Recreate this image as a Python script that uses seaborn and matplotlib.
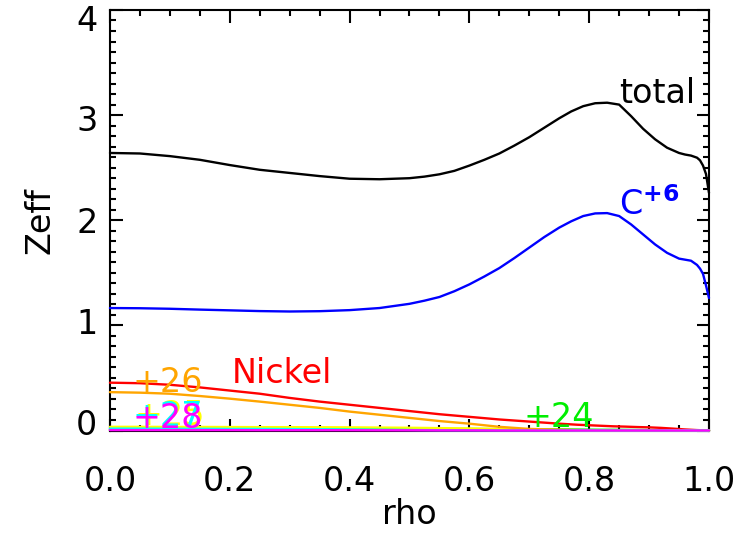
import numpy as np
import pandas as pd
import matplotlib
matplotlib.use("Agg")
import matplotlib.pyplot as plt
import matplotlib.transforms as mtransforms
from matplotlib.ticker import MultipleLocator
import seaborn as sns

# radius grid for the total and carbon profiles
rho_main = [0.00, 0.05, 0.10, 0.15, 0.20, 0.25, 0.30, 0.35, 0.40, 0.45,
            0.500, 0.525, 0.550, 0.575, 0.600, 0.625, 0.650, 0.675, 0.700, 0.725,
            0.750, 0.770, 0.790, 0.810, 0.830, 0.850, 0.870, 0.890, 0.910, 0.930,
            0.950, 0.960, 0.970, 0.980, 0.985, 0.990, 0.995, 1.000]
zeff_total = [2.640, 2.635, 2.610, 2.575, 2.525, 2.480, 2.450, 2.420, 2.395, 2.390,
              2.400, 2.415, 2.437, 2.470, 2.520, 2.575, 2.635, 2.710, 2.790, 2.880,
              2.970, 3.035, 3.085, 3.113, 3.118, 3.100, 2.990, 2.870, 2.770, 2.690,
              2.640, 2.625, 2.615, 2.595, 2.570, 2.520, 2.440, 2.260]
zeff_c6 = [1.165, 1.163, 1.158, 1.150, 1.143, 1.136, 1.132, 1.135, 1.145, 1.165,
           1.205, 1.235, 1.270, 1.325, 1.390, 1.465, 1.545, 1.640, 1.740, 1.840,
           1.930, 1.990, 2.040, 2.065, 2.068, 2.040, 1.960, 1.865, 1.770, 1.690,
           1.635, 1.625, 1.615, 1.575, 1.540, 1.490, 1.380, 1.260]

# radius grid for the nickel profiles
rho_ni = [0.00, 0.05, 0.10, 0.15, 0.20, 0.25, 0.30, 0.35, 0.40, 0.45,
          0.50, 0.55, 0.60, 0.65, 0.70, 0.75, 0.78, 0.80, 0.82, 0.84,
          0.86, 0.88, 0.90, 0.92, 0.94, 0.96, 0.97, 0.98, 0.99, 0.995, 1.00]
zeff_nickel = [0.455, 0.450, 0.435, 0.410, 0.380, 0.350, 0.310, 0.275, 0.245, 0.215,
               0.185, 0.155, 0.130, 0.105, 0.085, 0.065, 0.055, 0.050, 0.045, 0.040,
               0.037, 0.033, 0.030, 0.025, 0.018, 0.010, 0.007, 0.004, 0.002, 0.001, 0.000]
zeff_ni24 = [0.010, 0.010, 0.011, 0.011, 0.012, 0.012, 0.012, 0.013, 0.013, 0.014,
             0.014, 0.014, 0.014, 0.013, 0.012, 0.010, 0.009, 0.008, 0.007, 0.007,
             0.006, 0.005, 0.004, 0.003, 0.002, 0.001, 0.001, 0.000, 0.000, 0.000, 0.000]
zeff_ni25 = [0.035, 0.035, 0.034, 0.034, 0.033, 0.032, 0.032, 0.031, 0.030, 0.028,
             0.026, 0.023, 0.020, 0.015, 0.008, 0.003, 0.001, 0.000, 0.000, 0.000,
             0.000, 0.000, 0.000, 0.000, 0.000, 0.000, 0.000, 0.000, 0.000, 0.000, 0.000]
zeff_ni26 = [0.365, 0.360, 0.350, 0.328, 0.303, 0.275, 0.245, 0.215, 0.180, 0.150,
             0.120, 0.090, 0.065, 0.035, 0.015, 0.008, 0.004, 0.002, 0.001, 0.000,
             0.000, 0.000, 0.000, 0.000, 0.000, 0.000, 0.000, 0.000, 0.000, 0.000, 0.000]
zeff_ni27 = [0.018, 0.018, 0.017, 0.016, 0.015, 0.015, 0.014, 0.012, 0.010, 0.007,
             0.005, 0.003, 0.002, 0.001, 0.000, 0.000, 0.000, 0.000, 0.000, 0.000,
             0.000, 0.000, 0.000, 0.000, 0.000, 0.000, 0.000, 0.000, 0.000, 0.000, 0.000]
zeff_ni28 = [0.004, 0.004, 0.004, 0.004, 0.004, 0.003, 0.003, 0.003, 0.003, 0.002,
             0.002, 0.001, 0.001, 0.000, 0.000, 0.000, 0.000, 0.000, 0.000, 0.000,
             0.000, 0.000, 0.000, 0.000, 0.000, 0.000, 0.000, 0.000, 0.000, 0.000, 0.000]

species = ["total", "C+6", "Nickel", "+24", "+25", "+26", "+27", "+28"]
grids = [rho_main, rho_main] + [rho_ni] * 6
series = [zeff_total, zeff_c6, zeff_nickel, zeff_ni24, zeff_ni25,
          zeff_ni26, zeff_ni27, zeff_ni28]
colors = ["#000000", "#0000ff", "#ff0000", "#00ee00", "#ffff00",
          "#ffa500", "#00ffff", "#ff00ff"]

x_ticks = [0.0, 0.2, 0.4, 0.6, 0.8, 1.0]
y_ticks = [0, 1, 2, 3, 4]

df = pd.concat(
    [pd.DataFrame({"rho": r, "Zeff": vals, "species": name})
     for name, r, vals in zip(species, grids, series)],
    ignore_index=True,
)

sns.set_style("ticks")
plt.rcParams["font.family"] = ["DejaVu Sans"]
plt.rcParams.update({
    "font.size": 24,
    "text.color": "black",
    "axes.labelcolor": "black",
    "xtick.color": "black",
    "ytick.color": "black",
    "axes.edgecolor": "black",
})

fig = plt.figure(figsize=(7.4, 5.34), dpi=100)
ax = fig.add_axes([0.1486, 0.1938, 0.8095, 0.7875])

sns.lineplot(data=df, x="rho", y="Zeff", hue="species", hue_order=species,
             palette=dict(zip(species, colors)), linewidth=1.7,
             legend=False, ax=ax, estimator=None, sort=False)

for ln in ax.lines:
    ln.set_clip_on(False)
    ln.set_zorder(3)
    ln.set_solid_joinstyle("round")

ax.set_xlim(0.0, 1.0)
ax.set_ylim(0.0, 4.0)
ax.xaxis.set_minor_locator(MultipleLocator(0.05))
ax.yaxis.set_minor_locator(MultipleLocator(0.1))
ax.set_xticks(x_ticks)
ax.set_xticklabels([f"{v:.1f}" for v in x_ticks])
ax.set_yticks(y_ticks)
ax.set_yticklabels([str(v) for v in y_ticks])

ax.tick_params(which="both", direction="in", top=True, right=True,
               width=1.5, color="black", labelsize=24, labelcolor="black")
ax.tick_params(which="major", length=9)
ax.tick_params(which="minor", length=4.5)
ax.tick_params(axis="x", which="major", pad=25)
ax.tick_params(axis="y", which="major", pad=9)
for sp in ax.spines.values():
    sp.set_linewidth(1.5)
    sp.set_color("black")
    sp.set_zorder(2.5)

# y labels sit slightly toward the middle of the axis
shift_px = {0: 9, 1: 4, 2: 0, 3: -3, 4: -8}
for val, lab in zip(y_ticks, ax.get_yticklabels()):
    off = mtransforms.ScaledTranslation(0, shift_px[val] / 100.0, fig.dpi_scale_trans)
    lab.set_transform(lab.get_transform() + off)

ax.set_xlabel("rho", fontsize=24)
ax.set_ylabel("Zeff", fontsize=24)
ax.xaxis.set_label_coords(0.5, -0.16)
ax.yaxis.set_label_coords(-0.117, 0.5)
ax.yaxis.label.set_va("center")

# curve annotations
ax.text(0.977, 3.12, "total", color="black", ha="right", va="baseline", fontsize=24)
ax.text(0.850, 2.05, r"$\mathregular{C^{\mathbf{+6}}}$", color="#0000ff",
        ha="left", va="baseline", fontsize=24)
ax.text(0.204, 0.45, "Nickel", color="#ff0000", ha="left", va="baseline", fontsize=24)
ax.text(0.690, 0.035, "+24", color="#00ee00", ha="left", va="baseline", fontsize=24)
ax.text(0.041, 0.055, "+25", color="#ffff00", ha="left", va="baseline", fontsize=24)
ax.text(0.038, 0.37, "+26", color="#ffa500", ha="left", va="baseline", fontsize=24)
ax.text(0.038, 0.040, "+27", color="#00ffff", ha="left", va="baseline", fontsize=24)
ax.text(0.038, 0.020, "+28", color="#ff00ff", ha="left", va="baseline", fontsize=24)

fig.savefig("out.png", dpi=100)
